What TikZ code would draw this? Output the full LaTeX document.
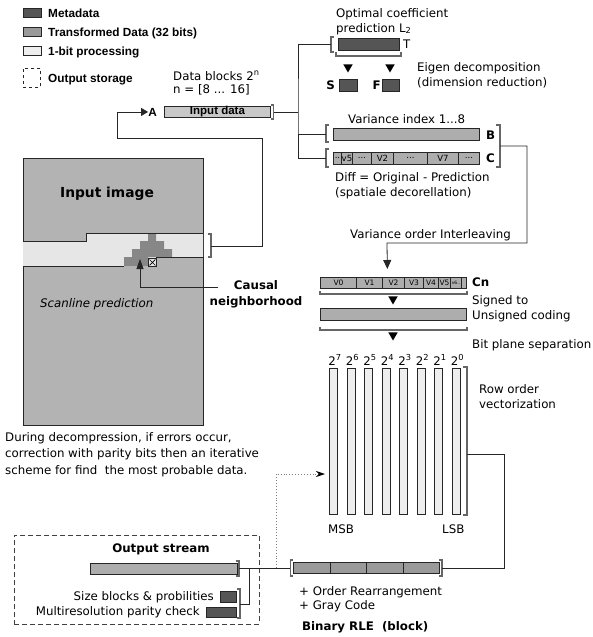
\documentclass[tikz,border=0pt]{standalone}
\usepackage{fontspec}
\setmainfont{DejaVu Sans}
\newfontfamily\legendfont{Liberation Sans}
\usetikzlibrary{arrows.meta,shapes.geometric}

\definecolor{metagray}{HTML}{555555}
\definecolor{datagray}{HTML}{9A9A9A}
\definecolor{bitgray}{HTML}{EEEEEE}
\definecolor{imggray}{HTML}{B3B3B3}
\definecolor{bandgray}{HTML}{E6E6E6}
\definecolor{nbgray}{HTML}{878787}
\definecolor{streamgray}{HTML}{ADADAD}
\definecolor{ingray}{HTML}{C8C8C8}

\begin{document}
\begin{tikzpicture}[x=1pt, y=-1pt,
	font=\fontsize{11.8}{15}\selectfont,
	bx/.style={draw=black!85, line width=0.9pt, inner sep=0, anchor=north west},
	meta/.style={bx, fill=metagray},
	data/.style={bx, fill=datagray},
	bit/.style={bx, fill=bitgray},
	seg/.style={bx, fill=streamgray, font=\fontsize{8.5}{9}\selectfont},
	lgd/.style={font=\legendfont\bfseries\fontsize{11.8}{14}\selectfont, anchor=base west, inner sep=0},
	txt/.style={anchor=base west, inner sep=0, align=left},
	bld/.style={txt, font=\bfseries\fontsize{11.8}{16}\selectfont},
	brk/.style={draw=black!60, line width=1.1pt},
	wire/.style={draw=black!85, line width=0.8pt},
	tri/.style={regular polygon, regular polygon sides=3, shape border rotate=180, fill=black, minimum size=11pt, inner sep=0}
]
	\useasboundingbox (0,0) rectangle (593,637);

	% legend
	\node[meta, minimum width=18, minimum height=9] (lgmeta) at (23,8) {};
	\node[lgd] (lgmetat) at (48,17) {Metadata};
	\node[data, minimum width=18, minimum height=9] (lgdata) at (23,27) {};
	\node[lgd] (lgdatat) at (48,36) {Transformed Data (32 bits)};
	\node[bit, minimum width=18, minimum height=9] (lgbit) at (23,46) {};
	\node[lgd] (lgbitt) at (48,55) {1-bit processing};
	\node[bx, dashed, minimum width=17, minimum height=19] (lgout) at (23,68) {};
	\node[lgd] (lgoutt) at (48,82) {Output storage};

	% input data (multi-line texts sit on their last baseline)
	\node[txt, font=\fontsize{11.8}{13}\selectfont] (blocks) at (173,93) {Data blocks 2\textsuperscript{n}\\n = [8 ... 16]};
	\node[bx, fill=ingray, minimum width=106, minimum height=11, font=\legendfont\bfseries\fontsize{11.5}{12}\selectfont] (indata) at (164,106) {Input data};
	\node[lgd, anchor=base east] (lblA) at (157,116) {A};
	\draw[brk] (271,105) -- (273.5,105) -- (273.5,119) -- (271,119);
	\coordinate (inbr) at (274,112);
	\coordinate (split) at (298,112);

	% optimal coefficients
	\node[txt] (opt) at (336,32) {Optimal coefficient\\prediction L\textsubscript{2}};
	\node[meta, minimum width=61, minimum height=12] (T) at (338,38) {};
	\node[txt] (Tlbl) at (403,48) {T};
	\draw[brk] (334,37) -- (331,37) -- (331,52) -- (334,52);
	\coordinate (Tbr) at (331,44);
	\draw[brk] (336,52) -- (336,56) -- (401,56) -- (401,52);
	\node[tri] (tS) at (348,67) {};
	\node[tri] (tF) at (390,67) {};
	\node[meta, minimum width=18, minimum height=12] (S) at (339,79) {};
	\node[bld, anchor=base east] (Slbl) at (335,89) {S};
	\node[meta, minimum width=17, minimum height=12] (F) at (382,79) {};
	\node[bld, anchor=base east] (Flbl) at (381,89) {F};
	\node[txt] (eigen) at (417,86) {Eigen decomposition\\(dimension reduction)};

	% variance and difference
	\node[txt] (varidx) at (348,123) {Variance index 1...8};
	\node[bx, fill=streamgray, minimum width=146, minimum height=12] (B) at (333,128) {};
	\node[bld] (Blbl) at (486,139) {B};
	\draw[brk] (329,125) -- (326,125) -- (326,142) -- (329,142);
	\coordinate (Bbr) at (326,134);
	\foreach \a/\b/\t [count=\i] in {333/341/{..}, 341/352/v5, 352/371/{...}, 371/393/V2, 393/427/{...}, 427/458/V7, 458/479/{...}}
		\node[seg, minimum width=\b-\a, minimum height=12] (c\i) at (\a,152) {\t};
	\node[bld] (Clbl) at (486,162) {C};
	\draw[brk] (329,149) -- (326,149) -- (326,167) -- (329,167);
	\coordinate (Cbr) at (326,158);
	\draw[brk] (496,125) -- (500,125) -- (500,167) -- (496,167);
	\coordinate (BCbr) at (500,146);
	\node[txt] (diff) at (335,196) {Diff = Original - Prediction\\(spatiale decorellation)};

	\draw[wire] (inbr) -- (split);
	\draw[wire] (Tbr) -| (split) |- (Cbr);
	\draw[wire] (split |- Bbr) -- (Bbr);

	% interleaving
	\node[txt] (interl) at (350,238) {Variance order Interleaving};
	\foreach \a/\b/\t [count=\i] in {320/356/V0, 356/382/V1, 382/404/V2, 404/423/V3, 423/438/V4, 438/450/V5, 450/461/{\fontsize{4.5}{5}\selectfont v6..}, 461/466/{}}
		\node[seg, font=\fontsize{7.5}{8}\selectfont, minimum width=\b-\a, minimum height=11] (cn\i) at (\a,277) {\t};
	\node[bx, minimum width=146, minimum height=11] (Cn) at (320,277) {};
	\node[bld] (Cnlbl) at (472,286) {Cn};
	\draw[wire, -{Triangle[length=9pt, width=8pt]}, shorten >=8pt] (BCbr) -- ++(27,0) |- ++(-140,97) -- ([xshift=-6pt]Cn.north);
	\draw[brk] (320,291) -- (320,294) -- (467,294) -- (467,291);
	\node[tri] (t1) at (393,299) {};
	\node[txt] (signed) at (472,319) {Signed to\\Unsigned coding};
	\node[bx, fill=streamgray, minimum width=146, minimum height=12] (uns) at (320,308) {};
	\draw[brk] (320,327) -- (320,330) -- (467,330) -- (467,327);
	\node[tri] (t2) at (393,335) {};
	\node[txt] (bitsep) at (472,348) {Bit plane separation};

	% bit planes
	\foreach \i in {0,...,7} {
		\pgfmathtruncatemacro\e{7-\i}
		\node[bit, minimum width=8, minimum height=146] (bp\e) at (329+17.5*\i,368) {};
		\node[anchor=base, inner sep=0] (pw\e) at (335+17.5*\i,365) {2\textsuperscript{\e}};
	}
	\draw[brk] (463,367) -- (467,367) -- (467,515) -- (463,515);
	\coordinate (bpbr) at (467,454);
	\node[txt] (roword) at (479,408) {Row order\\vectorization};
	\node[txt] (msb) at (328,533) {MSB};
	\node[txt] (lsb) at (442,533) {LSB};

	% binary RLE
	\foreach \a [count=\i] in {293,329.5,366,402.5}
		\node[data, minimum width=36.5, minimum height=11] (rle\i) at (\a,562) {};
	\draw[brk] (293,560) -- (290.5,560) -- (290.5,576) -- (293,576);
	\draw[brk] (439,560) -- (442,560) -- (442,576) -- (439,576);
	\coordinate (rlein) at (290,568);
	\coordinate (rlebr) at (442,568);
	\draw[wire] (bpbr) -- ++(37,0) |- (rlebr);
	\node[txt, font=\fontsize{11.8}{14}\selectfont] (rletxt) at (299,609) {+ Order Rearrangement\\+ Gray Code};
	\node[bld] (rlelbl) at (302,630) {Binary RLE\ \ (block)};

	% input image
	\node[bx, fill=imggray, minimum width=180, minimum height=267] (img) at (23,158) {};
	\fill[bandgray] (23,241) -- (86,241) -- (86,233) -- (203,233) -- (203,257) -- (156,257) -- (156,266) -- (23,266) -- cycle;
	\fill[nbgray] (148,233) rectangle (156,241) (140,241) rectangle (164,249) (132,249) rectangle (172,257) (124,257) rectangle (148,266);
	\draw[wire] (23,241) -- (86,241) -- (86,233) -- (203,233);
	\draw[wire] (23,266) -- (124,266);
	\draw[wire] (156,257) -- (203,257);
	\node[bx, fill=bandgray, minimum size=8] (cur) at (148,258) {};
	\draw[line width=0.6pt] ([shift={(1.5pt,-1.5pt)}]cur.north west) -- ([shift={(-1.5pt,1.5pt)}]cur.south east)
		([shift={(-1.5pt,-1.5pt)}]cur.north east) -- ([shift={(1.5pt,1.5pt)}]cur.south west);
	\node[bld, anchor=base, font=\bfseries\fontsize{13.8}{16}\selectfont] (imgt) at (107,197) {Input image};
	\node[txt, font=\itshape\fontsize{11.8}{15}\selectfont] (scan) at (40,307) {Scanline prediction};
	\draw[brk] (208,234) -- (211,234) -- (211,257) -- (208,257);
	\coordinate (bandbr) at (211,246);
	\draw[wire, -{Triangle[length=7pt, width=8pt]}] (bandbr) -- ++(51,0) |- ++(-145,-108) |- (lblA.west);

	% causal neighborhood
	\node[bld, anchor=base, align=center] (causal) at (256,305) {Causal\\neighborhood};
	\coordinate (causalin) at (218,287);
	\coordinate (nbtip) at (140,259);
	\draw[wire, -{Triangle[length=10pt, width=7pt]}] (causalin) -| (nbtip);

	% decompression note
	\node[txt, font=\fontsize{11.8}{16.5}\selectfont] (note) at (5,474) {During decompression, if errors occur,\\correction with parity bits then an iterative\\scheme for find\ \ the most probable data.};

	% output stream
	\node[bx, draw=black!75, dash pattern=on 5pt off 3pt, minimum width=245, minimum height=89] (store) at (14,535) {};
	\node[bld, anchor=base] (outlbl) at (161,552) {Output stream};
	\node[bx, fill=streamgray, minimum width=147, minimum height=11] (stream) at (90,563) {};
	\draw[brk] (236,561) -- (239,561) -- (239,576) -- (236,576);
	\coordinate (stbr) at (239,568);
	\node[meta, minimum width=16, minimum height=11] (sizeb) at (220,591) {};
	\node[meta, minimum width=30, minimum height=10] (parb) at (206,607) {};
	\node[txt, anchor=base east] (sizet) at (214,600) {Size blocks \& probilities};
	\node[txt, anchor=base east] (part) at (200,615) {Multiresolution parity check};
	\draw[brk] (237,589) -- (240,589) -- (240,618) -- (237,618);
	\coordinate (mbr) at (240,604);
	\draw[wire] (stbr) -- (rlein);
	\draw[wire] (mbr) -- ++(9,0) |- (stbr);

	% error correction
	\coordinate (junc) at (276,568);
	\coordinate (err) at (325,474);
	\draw[black!50, dotted, line width=0.9pt, -{Stealth[length=9pt, width=6pt, black]}] (junc) |- (err);
\end{tikzpicture}
\end{document}
